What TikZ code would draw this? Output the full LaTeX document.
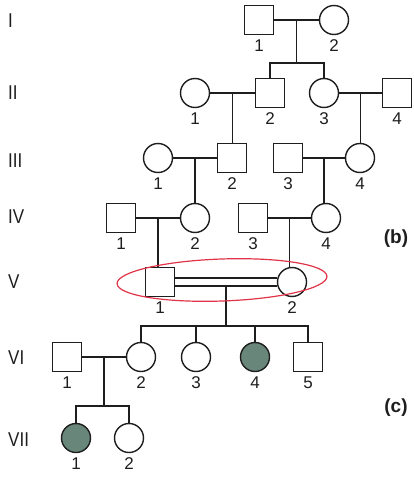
\documentclass[tikz,border=0pt]{standalone}
\usepackage{fontspec}
\setmainfont{Liberation Sans}
\newfontfamily\romfont[FakeStretch=0.85]{Liberation Sans}
\usetikzlibrary{calc}
\definecolor{affect}{RGB}{104,135,122}
\definecolor{ink}{RGB}{30,30,30}
\definecolor{pen}{RGB}{226,52,72}
\tikzset{
  male/.style={draw=ink,line width=1.4pt,rectangle,minimum size=29pt,inner sep=0pt},
  female/.style={draw=ink,line width=1.4pt,circle,minimum size=29pt,inner sep=0pt},
  aff/.style={fill=affect},
  lbl/.style={font=\fontsize{17}{17}\selectfont,text=ink,inner sep=0pt},
  gen/.style={font=\romfont\fontsize{20}{20}\selectfont,text=ink,anchor=west,inner sep=0pt},
  tag/.style={font=\bfseries\fontsize{19}{19}\selectfont,text=ink,inner sep=0pt},
  link/.style={draw=ink,line width=1.4pt}
}
\begin{document}
\begin{tikzpicture}[x=1pt,y=-1pt]
\useasboundingbox (0,0) rectangle (414,481);
\fill[white] (0,0) rectangle (414,481);
% generation numerals
\node[gen] (gI) at (8,21) {I};
\node[gen] (gII) at (8,93) {II};
\node[gen] (gIII) at (8,161) {III};
\node[gen] (gIV) at (8,217) {IV};
\node[gen] (gV) at (8,282) {V};
\node[gen] (gVI) at (8,358) {VI};
\node[gen] (gVII) at (8,440) {VII};
\node[tag] (tb) at (396,239) {(b)};
\node[tag] (tc) at (396,408) {(c)};
% individuals
\node[male] (I1) at (259,20) {};
\node[female] (I2) at (334,20) {};
\node[female] (II1) at (195,93) {};
\node[male] (II2) at (270,93) {};
\node[female] (II3) at (324,93) {};
\node[male] (II4) at (397,93) {};
\node[female] (III1) at (158,158) {};
\node[male] (III2) at (232,158) {};
\node[male] (III3) at (288,158) {};
\node[female] (III4) at (360,158) {};
\node[male] (IV1) at (121,218) {};
\node[female] (IV2) at (195,218) {};
\node[male] (IV3) at (253,218) {};
\node[female] (IV4) at (326,218) {};
\node[male] (V1) at (160,282) {};
\node[female] (V2) at (292,282) {};
\node[male] (VI1) at (67,357) {};
\node[female] (VI2) at (141,357) {};
\node[female] (VI3) at (196,357) {};
\node[female,aff] (VI4) at (255,357) {};
\node[male] (VI5) at (308,357) {};
\node[female,aff] (VII1) at (76,438) {};
\node[female] (VII2) at (129,438) {};
% labels
\foreach \n/\t in {I1/1,I2/2,II1/1,II2/2,II3/3,II4/4,III1/1,III2/2,III3/3,III4/4,IV1/1,IV2/2,IV3/3,IV4/4,V1/1,V2/2,VI1/1,VI2/2,VI3/3,VI4/4,VI5/5,VII1/1,VII2/2}
  \node[lbl] (l\n) at ($(\n)+(0,26)$) {\t};
% matings
\draw[link] (I1) -- (I2);
\draw[link] (II1) -- (II2);
\draw[link] (II3) -- (II4);
\draw[link] (III1) -- (III2);
\draw[link] (III3) -- (III4);
\draw[link] (IV1) -- (IV2);
\draw[link] (IV3) -- (IV4);
\draw[link] (VI1) -- (VI2);
\draw[link] ($(V1.east)+(0,-4)$) -- ($(V2.west)+(0,-4)$);
\draw[link] ($(V1.east)+(0,4)$) -- ($(V2.west)+(0,4)$);
% mating midpoints
\coordinate (m1) at ($(I1)!0.5!(I2)$);
\coordinate (m2) at ($(II1)!0.5!(II2)$);
\coordinate (m3) at ($(II3)!0.5!(II4)$);
\coordinate (m4) at ($(III1)!0.5!(III2)$);
\coordinate (m5) at ($(III3)!0.5!(III4)$);
\coordinate (m6) at ($(IV1)!0.5!(IV2)$);
\coordinate (m7) at ($(IV3)!0.5!(IV4)$);
\coordinate (m8) at ($(V1)!0.5!(V2)+(0,4)$);
\coordinate (m9) at ($(VI1)!0.5!(VI2)$);
\coordinate (s1) at ($(m1)+(0,43)$);
\coordinate (s8) at ($(m8)+(0,40)$);
\coordinate (s9) at ($(m9)+(0,49)$);
% descents
\draw[link] (m1) -- (s1);
\draw[link] (II2.north) |- (s1) -| (II3.north);
\draw[link] (m2) -- (m2 |- III2.north);
\draw[link] (m3) -- (m3 |- III4.north);
\draw[link] (m4) -- (m4 |- IV2.north);
\draw[link] (m5) -- (m5 |- IV4.north);
\draw[link] (m6) -- (m6 |- V1.north);
\draw[link] (m7) -- (m7 |- V2.north);
\draw[link] (m8) -- (s8);
\draw[link] (VI2.north) |- (s8) -| (VI5.north);
\draw[link] (VI3.north) -- (VI3.north |- s8);
\draw[link] (VI4.north) -- (VI4.north |- s8);
\draw[link] (m9) -- (s9);
\draw[link] (VII1.north) |- (s9) -| (VII2.north);
% red pen annotation
\draw[pen,line width=1.2pt,rotate around={2:(222,280)}] (222,280) ellipse [x radius=105, y radius=21];
\end{tikzpicture}
\end{document}
